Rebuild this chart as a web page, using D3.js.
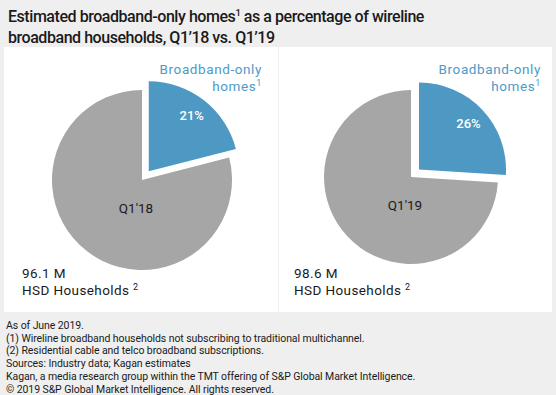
<!DOCTYPE html>
<html>
<head>
<meta charset="utf-8">
<script src="https://cdn.jsdelivr.net/npm/d3@7"></script>
<style>
  body { margin: 0; background: #efefef; }
  svg { display: block; font-family: Roboto, "Liberation Sans", sans-serif; }
</style>
</head>
<body>
<div id="chart"></div>
<script>
// data
const periods = ["Q1'18", "Q1'19"];
const broadbandOnlyShare = [21, 26];
const hsdHouseholds = ["96.1 M", "98.6 M"];

const titleLines = [
  ["Estimated broadband-only homes", "1", " as a percentage of wireline"],
  ["broadband households, Q1\u201918 vs. Q1\u201919"]
];
const footnotes = [
  "As of June 2019.",
  "(1) Wireline broadband households not subscribing to traditional multichannel.",
  "(2) Residential cable and telco broadband subscriptions.",
  "Sources: Industry data; Kagan estimates",
  "Kagan, a media research group within the TMT offering of S&P Global Market Intelligence.",
  "\u00a9 2019 S&P Global Market Intelligence. All rights reserved."
];

const width = 556, height = 395;
const blue = "#4d99c3", grey = "#a6a6a6";

const svg = d3.select("#chart").append("svg")
  .attr("width", width)
  .attr("height", height)
  .attr("viewBox", [0, 0, width, height]);

svg.append("rect").attr("width", width).attr("height", height).attr("fill", "#efefef");

// title
const title = svg.append("text")
  .attr("font-size", 16)
  .attr("font-weight", 500)
  .attr("letter-spacing", -0.45)
  .attr("fill", "#1a1a1a");
titleLines.forEach((parts, i) => {
  const line = title.append("tspan").attr("x", 8).attr("y", 22 + i * 21);
  let raised = false;
  parts.forEach(p => {
    if (p === "1") {
      line.append("tspan").attr("font-size", 9.5).attr("dy", -6).text(p);
      raised = true;
    } else {
      line.append("tspan").attr("dy", raised ? 6 : null).text(p);
      raised = false;
    }
  });
});

// panels
const panels = [
  {x: 4, w: 274, cx: 142, cy: 180, r: 90, labelRight: 262, noteX: 22},
  {x: 279, w: 273, cx: 411, cy: 177, r: 87, labelRight: 541, noteX: 294}
];

const pie = d3.pie().sort(null).value(d => d);
const explode = 11;

panels.forEach((p, i) => {
  svg.append("rect")
    .attr("x", p.x).attr("y", 47)
    .attr("width", p.w).attr("height", 265)
    .attr("fill", "#fff");

  const g = svg.append("g").attr("transform", `translate(${p.cx},${p.cy})`);
  const arcs = pie([broadbandOnlyShare[i], 100 - broadbandOnlyShare[i]]);
  const arc = d3.arc().innerRadius(0).outerRadius(p.r);
  const labelArc = d3.arc().innerRadius(p.r * 0.78).outerRadius(p.r * 0.78);

  g.selectAll("path")
    .data(arcs)
    .join("path")
      .attr("transform", (d, k) => {
        if (k !== 0) return null;
        const a = (d.startAngle + d.endAngle) / 2;
        return `translate(${explode * Math.sin(a)},${-explode * Math.cos(a)})`;
      })
      .attr("d", arc)
      .attr("fill", (d, k) => k === 0 ? blue : grey);

  // percentage on the exploded slice
  const a0 = (arcs[0].startAngle + arcs[0].endAngle) / 2;
  const c = labelArc.centroid(arcs[0]);
  g.append("text")
    .attr("x", c[0] + explode * Math.sin(a0))
    .attr("y", c[1] - explode * Math.cos(a0))
    .attr("text-anchor", "middle")
    .attr("dy", "0.35em")
    .attr("font-size", 13)
    .attr("font-weight", 500)
    .attr("fill", "#fff")
    .text(broadbandOnlyShare[i] + "%");

  // period label
  g.append("text")
    .attr("x", -6)
    .attr("y", 28)
    .attr("text-anchor", "middle")
    .attr("dy", "0.35em")
    .attr("font-size", 13.5)
    .attr("fill", "#1a1a1a")
    .text(periods[i]);

  // series label
  const lab = svg.append("text")
    .attr("text-anchor", "end")
    .attr("font-size", 13.5)
    .attr("letter-spacing", 0.6)
    .attr("fill", "#4d9ac7");
  lab.append("tspan").attr("x", p.labelRight).attr("y", 74).text("Broadband-only");
  const l2 = lab.append("tspan").attr("x", p.labelRight).attr("y", 91);
  l2.append("tspan").text("homes");
  l2.append("tspan").attr("font-size", 9).attr("dy", -5).text("1");

  // household total
  const tot = svg.append("text")
    .attr("font-size", 13.5)
    .attr("fill", "#1a1a1a")
    .attr("letter-spacing", 0.4);
  tot.append("tspan").attr("x", p.noteX).attr("y", 278).text(hsdHouseholds[i]);
  const t2 = tot.append("tspan").attr("x", p.noteX).attr("y", 295);
  t2.append("tspan").text("HSD Households ");
  t2.append("tspan").attr("font-size", 9).attr("dy", -5).text("2");
});

// footnotes
svg.append("g")
  .selectAll("text")
  .data(footnotes)
  .join("text")
    .attr("x", 6)
    .attr("y", (d, k) => 329 + k * 12.7)
    .attr("font-size", 10.5)
    .attr("letter-spacing", -0.08)
    .attr("fill", "#1a1a1a")
    .text(d => d);
</script>
</body>
</html>
